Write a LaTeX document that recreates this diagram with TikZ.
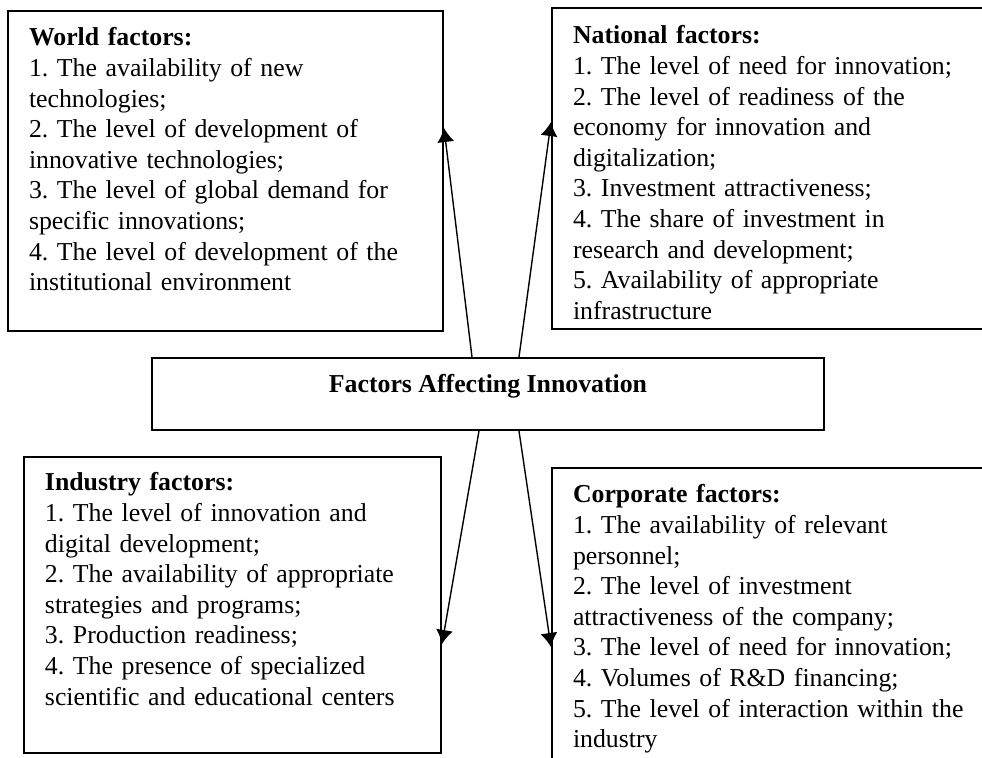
\documentclass[tikz,border=0pt]{standalone}
\usepackage{fontspec}
\setmainfont{Liberation Serif}
\usepackage{tikz}
\usetikzlibrary{arrows.meta}
\usetikzlibrary{calc}
\frenchspacing
\tikzstyle{factor}=[
        draw,
        line width=1pt,
        rectangle,
        anchor=north west,
        align=left,
        inner xsep=10.5pt,
        inner ysep=4pt,
        text height=13.5pt,
        font=\fontsize{12.9}{15.3}\selectfont
]
\tikzstyle{core}=[rectangle,draw,line width=1pt,anchor=north west,
minimum width=336pt,inner ysep=4pt,text height=13.5pt,text depth=14.5pt,
font=\fontsize{12.9}{15.3}\selectfont\bfseries]
\tikzstyle{link}=[-{Latex[length=7pt,width=8.5pt]},line width=0.7pt]

\begin{document}
\begin{tikzpicture}[x=0.5pt,y=-0.5pt]
\clip (0,0) rectangle (982,758);
\node[factor,text width=196.5pt,text depth=138.5pt] (world) at (7,10) {\textbf{World factors:}\\
1. The availability of new\\
technologies;\\
2. The level of development of\\
innovative technologies;\\
3. The level of global demand for\\
specific innovations;\\
4. The level of development of the\\
institutional environment};
\node[factor,text width=209pt,text height=14pt,text depth=138.5pt] (national) at (551,7) {\textbf{National factors:}\\
1. The level of need for innovation;\\
2. The level of readiness of the\\
economy for innovation and\\
digitalization;\\
3. Investment attractiveness;\\
4. The share of investment in\\
research and development;\\
5. Availability of appropriate\\
infrastructure};
\node[core] (center) at (151,357) {Factors Affecting Innovation};
\node[factor,text width=187.5pt,text height=13pt,text depth=127pt] (industry) at (23,456) {\textbf{Industry factors:}\\
1. The level of innovation and\\
digital development;\\
2. The availability of appropriate\\
strategies and programs;\\
3. Production readiness;\\
4. The presence of specialized\\
scientific and educational centers};
\node[factor,text width=209pt,text depth=145pt] (corporate) at (551,467) {\textbf{Corporate factors:}\\
1. The availability of relevant\\
personnel;\\
2. The level of investment\\
attractiveness of the company;\\
3. The level of need for innovation;\\
4. Volumes of R\&D financing;\\
5. The level of interaction within the\\
industry};
%Drawing Edges
\draw[link] ($(center.north west)+(321,0)$) -- ($(world.north east)+(0,118)$);
\draw[link] ($(center.north west)+(368,0)$) -- ($(national.north west)+(0,115)$);
\draw[link] ($(center.south west)+(328,0)$) -- ($(industry.north east)+(0,188)$);
\draw[link] ($(center.south west)+(368,0)$) -- ($(corporate.north west)+(0,180)$);
\end{tikzpicture}
\end{document}
